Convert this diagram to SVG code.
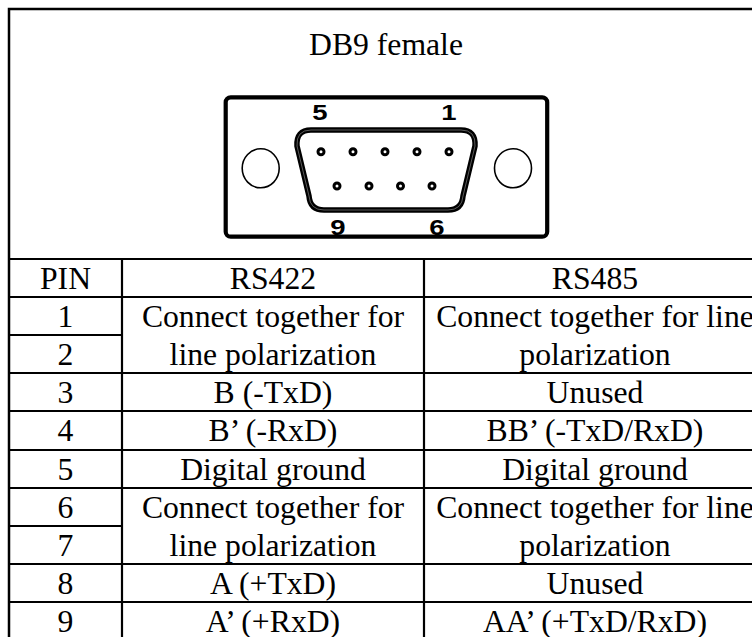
<svg xmlns="http://www.w3.org/2000/svg" width="752" height="637" viewBox="0 0 752 637">
  <style>
    .t { font-family: "Liberation Serif", "Times New Roman", serif; font-size: 31.7px; fill: #000; text-anchor: middle; }
    .pl { font-family: "Liberation Sans", Arial, sans-serif; font-weight: bold; font-size: 22px; fill: #000; text-anchor: middle; }
    .ln { stroke: #000; stroke-width: 2.2; fill: none; }
    .pin { fill: none; stroke: #000; stroke-width: 3; }
    .hole { fill: none; stroke: #000; stroke-width: 1.6; }
  </style>
  <rect x="0" y="0" width="752" height="637" fill="#fff"/>

  <g id="frame">
    <path d="M9 637 V9 H752" fill="none" stroke="#000" stroke-width="2.5"/>
  </g>

  <g id="title">
    <text class="t" x="386" y="55">DB9 female</text>
  </g>

  <g id="connector">
    <rect x="225.7" y="97.3" width="321.5" height="139.4" rx="5" fill="none" stroke="#000" stroke-width="4.2"/>
    <ellipse class="hole" cx="260.7" cy="168.3" rx="18.5" ry="19.5"/>
    <ellipse class="hole" cx="513" cy="168.3" rx="18.5" ry="19.5"/>
    <path d="M311 130 L461 130 Q476 130 475 146 L463 196 Q462 210 448 210 L324 210 Q310 210 309 196 L297 146 Q296 130 311 130 Z" fill="none" stroke="#000" stroke-width="5.5"/>
    <path d="M311 130 L461 130 Q476 130 475 146 L463 196 Q462 210 448 210 L324 210 Q310 210 309 196 L297 146 Q296 130 311 130 Z" fill="none" stroke="#fff" stroke-width="0.6" opacity="0.6"/>
    <circle class="pin" cx="321" cy="151.7" r="3"/>
    <circle class="pin" cx="353" cy="151.7" r="3"/>
    <circle class="pin" cx="385" cy="151.7" r="3"/>
    <circle class="pin" cx="417" cy="151.7" r="3"/>
    <circle class="pin" cx="449" cy="151.7" r="3"/>
    <circle class="pin" cx="337" cy="186" r="3"/>
    <circle class="pin" cx="369" cy="186" r="3"/>
    <circle class="pin" cx="400.5" cy="186" r="3"/>
    <circle class="pin" cx="432" cy="186" r="3"/>
    <text class="pl" transform="translate(320 120) scale(1.25 1)">5</text>
    <text class="pl" transform="translate(449 120) scale(1.25 1)">1</text>
    <text class="pl" transform="translate(338 235) scale(1.25 1)">9</text>
    <text class="pl" transform="translate(437 235) scale(1.25 1)">6</text>
  </g>

  <g id="table-lines">
    <path class="ln" d="M9 259 H766 M9 297 H766 M9 335 H122 M9 373 H766 M9 411 H766 M9 450 H766 M9 488 H766 M9 526 H122 M9 564 H766 M9 602 H766"/>
    <path class="ln" d="M122 259 V637 M424 259 V637"/>
  </g>

  <g id="header">
    <text class="t" x="65.5" y="289">PIN</text>
    <text class="t" x="273" y="289">RS422</text>
    <text class="t" x="595" y="289">RS485</text>
  </g>

  <g id="pins">
    <text class="t" x="65.5" y="327">1</text>
    <text class="t" x="65.5" y="365">2</text>
    <text class="t" x="65.5" y="403">3</text>
    <text class="t" x="65.5" y="441">4</text>
    <text class="t" x="65.5" y="480">5</text>
    <text class="t" x="65.5" y="518">6</text>
    <text class="t" x="65.5" y="556">7</text>
    <text class="t" x="65.5" y="594">8</text>
    <text class="t" x="65.5" y="632">9</text>
  </g>

  <g id="rs422">
    <text class="t" x="273" y="327">Connect together for</text>
    <text class="t" x="273" y="365">line polarization</text>
    <text class="t" x="273" y="403">B (-TxD)</text>
    <text class="t" x="273" y="441">B’ (-RxD)</text>
    <text class="t" x="273" y="480">Digital ground</text>
    <text class="t" x="273" y="518">Connect together for</text>
    <text class="t" x="273" y="556">line polarization</text>
    <text class="t" x="273" y="594">A (+TxD)</text>
    <text class="t" x="273" y="632">A’ (+RxD)</text>
  </g>

  <g id="rs485">
    <text class="t" x="595" y="327">Connect together for line</text>
    <text class="t" x="595" y="365">polarization</text>
    <text class="t" x="595" y="403">Unused</text>
    <text class="t" x="595" y="441">BB’ (-TxD/RxD)</text>
    <text class="t" x="595" y="480">Digital ground</text>
    <text class="t" x="595" y="518">Connect together for line</text>
    <text class="t" x="595" y="556">polarization</text>
    <text class="t" x="595" y="594">Unused</text>
    <text class="t" x="595" y="632">AA’ (+TxD/RxD)</text>
  </g>
</svg>
